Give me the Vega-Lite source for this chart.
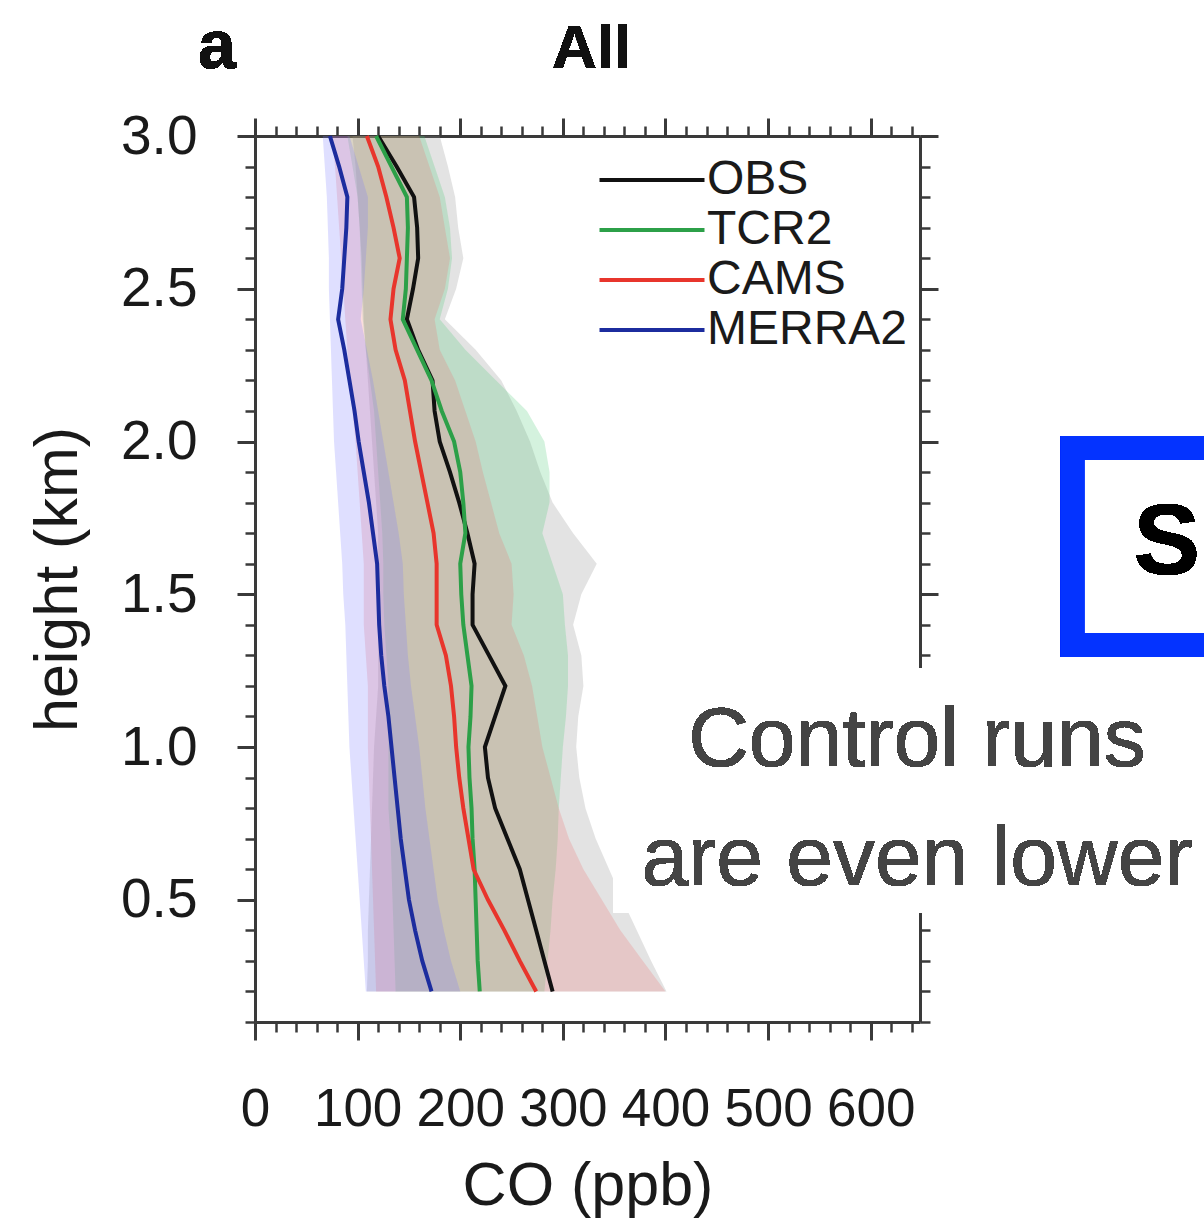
{
  "$schema": "https://vega.github.io/schema/vega-lite/v6.json",
  "width": 665,
  "height": 886,
  "autosize": {"type": "none"},
  "padding": {"left": 255, "top": 136, "right": 284, "bottom": 202},
  "background": "white",
  "config": {"view": {"stroke": null}, "font": "Liberation Sans", "text": {"font": "Liberation Sans"}},
  "data": {"values": [
    {"series": "OBS", "height": 3.0, "co": 120, "lo": 95, "hi": 180},
    {"series": "OBS", "height": 2.9, "co": 138, "lo": 98, "hi": 188},
    {"series": "OBS", "height": 2.8, "co": 155, "lo": 100, "hi": 195},
    {"series": "OBS", "height": 2.7, "co": 158, "lo": 102, "hi": 198},
    {"series": "OBS", "height": 2.6, "co": 159, "lo": 104, "hi": 203},
    {"series": "OBS", "height": 2.5, "co": 154, "lo": 105, "hi": 196},
    {"series": "OBS", "height": 2.4, "co": 148, "lo": 106, "hi": 185},
    {"series": "OBS", "height": 2.3, "co": 159, "lo": 108, "hi": 215},
    {"series": "OBS", "height": 2.2, "co": 173, "lo": 110, "hi": 240},
    {"series": "OBS", "height": 2.1, "co": 175, "lo": 112, "hi": 255},
    {"series": "OBS", "height": 2.0, "co": 180, "lo": 114, "hi": 268},
    {"series": "OBS", "height": 1.9, "co": 190, "lo": 116, "hi": 278},
    {"series": "OBS", "height": 1.8, "co": 199, "lo": 118, "hi": 290},
    {"series": "OBS", "height": 1.7, "co": 207, "lo": 120, "hi": 310},
    {"series": "OBS", "height": 1.6, "co": 214, "lo": 120, "hi": 333},
    {"series": "OBS", "height": 1.5, "co": 212, "lo": 120, "hi": 318},
    {"series": "OBS", "height": 1.4, "co": 212, "lo": 120, "hi": 310},
    {"series": "OBS", "height": 1.3, "co": 228, "lo": 120, "hi": 318},
    {"series": "OBS", "height": 1.2, "co": 244, "lo": 120, "hi": 320},
    {"series": "OBS", "height": 1.1, "co": 234, "lo": 118, "hi": 315},
    {"series": "OBS", "height": 1.0, "co": 224, "lo": 116, "hi": 313},
    {"series": "OBS", "height": 0.9, "co": 227, "lo": 115, "hi": 316},
    {"series": "OBS", "height": 0.8, "co": 234, "lo": 114, "hi": 322},
    {"series": "OBS", "height": 0.7, "co": 246, "lo": 113, "hi": 332},
    {"series": "OBS", "height": 0.6, "co": 258, "lo": 112, "hi": 345},
    {"series": "OBS", "height": 0.5, "co": 266, "lo": 111, "hi": 358},
    {"series": "OBS", "height": 0.4, "co": 274, "lo": 110, "hi": 372},
    {"series": "OBS", "height": 0.3, "co": 282, "lo": 110, "hi": 386},
    {"series": "OBS", "height": 0.2, "co": 290, "lo": 109, "hi": 401},
    {"series": "TCR2", "height": 3.0, "co": 118, "lo": 90, "hi": 165},
    {"series": "TCR2", "height": 2.9, "co": 133, "lo": 95, "hi": 175},
    {"series": "TCR2", "height": 2.8, "co": 148, "lo": 100, "hi": 185},
    {"series": "TCR2", "height": 2.7, "co": 149, "lo": 102, "hi": 190},
    {"series": "TCR2", "height": 2.6, "co": 148, "lo": 103, "hi": 192},
    {"series": "TCR2", "height": 2.5, "co": 147, "lo": 104, "hi": 188},
    {"series": "TCR2", "height": 2.4, "co": 144, "lo": 105, "hi": 180},
    {"series": "TCR2", "height": 2.3, "co": 158, "lo": 108, "hi": 205},
    {"series": "TCR2", "height": 2.2, "co": 172, "lo": 112, "hi": 235},
    {"series": "TCR2", "height": 2.1, "co": 182, "lo": 116, "hi": 265},
    {"series": "TCR2", "height": 2.0, "co": 194, "lo": 118, "hi": 282},
    {"series": "TCR2", "height": 1.9, "co": 200, "lo": 120, "hi": 287},
    {"series": "TCR2", "height": 1.8, "co": 203, "lo": 122, "hi": 287},
    {"series": "TCR2", "height": 1.7, "co": 205, "lo": 124, "hi": 280},
    {"series": "TCR2", "height": 1.6, "co": 200, "lo": 125, "hi": 290},
    {"series": "TCR2", "height": 1.5, "co": 201, "lo": 125, "hi": 300},
    {"series": "TCR2", "height": 1.4, "co": 203, "lo": 126, "hi": 302},
    {"series": "TCR2", "height": 1.3, "co": 207, "lo": 128, "hi": 305},
    {"series": "TCR2", "height": 1.2, "co": 211, "lo": 130, "hi": 305},
    {"series": "TCR2", "height": 1.1, "co": 210, "lo": 130, "hi": 303},
    {"series": "TCR2", "height": 1.0, "co": 208, "lo": 130, "hi": 300},
    {"series": "TCR2", "height": 0.9, "co": 209, "lo": 130, "hi": 298},
    {"series": "TCR2", "height": 0.8, "co": 211, "lo": 130, "hi": 296},
    {"series": "TCR2", "height": 0.7, "co": 212, "lo": 132, "hi": 295},
    {"series": "TCR2", "height": 0.6, "co": 214, "lo": 133, "hi": 293},
    {"series": "TCR2", "height": 0.5, "co": 215, "lo": 134, "hi": 290},
    {"series": "TCR2", "height": 0.4, "co": 216, "lo": 135, "hi": 288},
    {"series": "TCR2", "height": 0.3, "co": 217, "lo": 136, "hi": 285},
    {"series": "TCR2", "height": 0.2, "co": 219, "lo": 137, "hi": 282},
    {"series": "CAMS", "height": 3.0, "co": 109, "lo": 75, "hi": 160},
    {"series": "CAMS", "height": 2.9, "co": 120, "lo": 78, "hi": 170},
    {"series": "CAMS", "height": 2.8, "co": 128, "lo": 80, "hi": 180},
    {"series": "CAMS", "height": 2.7, "co": 135, "lo": 82, "hi": 185},
    {"series": "CAMS", "height": 2.6, "co": 141, "lo": 84, "hi": 190},
    {"series": "CAMS", "height": 2.5, "co": 135, "lo": 86, "hi": 185},
    {"series": "CAMS", "height": 2.4, "co": 132, "lo": 88, "hi": 175},
    {"series": "CAMS", "height": 2.3, "co": 137, "lo": 90, "hi": 180},
    {"series": "CAMS", "height": 2.2, "co": 146, "lo": 92, "hi": 195},
    {"series": "CAMS", "height": 2.1, "co": 151, "lo": 95, "hi": 205},
    {"series": "CAMS", "height": 2.0, "co": 156, "lo": 98, "hi": 215},
    {"series": "CAMS", "height": 1.9, "co": 162, "lo": 100, "hi": 222},
    {"series": "CAMS", "height": 1.8, "co": 168, "lo": 102, "hi": 230},
    {"series": "CAMS", "height": 1.7, "co": 174, "lo": 104, "hi": 238},
    {"series": "CAMS", "height": 1.6, "co": 177, "lo": 106, "hi": 250},
    {"series": "CAMS", "height": 1.5, "co": 177, "lo": 106, "hi": 252},
    {"series": "CAMS", "height": 1.4, "co": 177, "lo": 106, "hi": 250},
    {"series": "CAMS", "height": 1.3, "co": 186, "lo": 108, "hi": 262},
    {"series": "CAMS", "height": 1.2, "co": 191, "lo": 110, "hi": 270},
    {"series": "CAMS", "height": 1.1, "co": 194, "lo": 110, "hi": 275},
    {"series": "CAMS", "height": 1.0, "co": 196, "lo": 110, "hi": 280},
    {"series": "CAMS", "height": 0.9, "co": 199, "lo": 111, "hi": 288},
    {"series": "CAMS", "height": 0.8, "co": 203, "lo": 112, "hi": 296},
    {"series": "CAMS", "height": 0.7, "co": 208, "lo": 113, "hi": 306},
    {"series": "CAMS", "height": 0.6, "co": 213, "lo": 114, "hi": 320},
    {"series": "CAMS", "height": 0.5, "co": 227, "lo": 115, "hi": 338},
    {"series": "CAMS", "height": 0.4, "co": 243, "lo": 116, "hi": 356},
    {"series": "CAMS", "height": 0.3, "co": 258, "lo": 117, "hi": 378},
    {"series": "CAMS", "height": 0.2, "co": 274, "lo": 118, "hi": 400},
    {"series": "MERRA2", "height": 3.0, "co": 73, "lo": 66, "hi": 92},
    {"series": "MERRA2", "height": 2.9, "co": 82, "lo": 68, "hi": 101},
    {"series": "MERRA2", "height": 2.8, "co": 90, "lo": 70, "hi": 110},
    {"series": "MERRA2", "height": 2.7, "co": 89, "lo": 71, "hi": 110},
    {"series": "MERRA2", "height": 2.6, "co": 87, "lo": 72, "hi": 108},
    {"series": "MERRA2", "height": 2.5, "co": 85, "lo": 72, "hi": 106},
    {"series": "MERRA2", "height": 2.4, "co": 81, "lo": 73, "hi": 103},
    {"series": "MERRA2", "height": 2.3, "co": 87, "lo": 74, "hi": 109},
    {"series": "MERRA2", "height": 2.2, "co": 92, "lo": 75, "hi": 115},
    {"series": "MERRA2", "height": 2.1, "co": 97, "lo": 76, "hi": 120},
    {"series": "MERRA2", "height": 2.0, "co": 101, "lo": 77, "hi": 125},
    {"series": "MERRA2", "height": 1.9, "co": 106, "lo": 79, "hi": 130},
    {"series": "MERRA2", "height": 1.8, "co": 111, "lo": 81, "hi": 135},
    {"series": "MERRA2", "height": 1.7, "co": 115, "lo": 83, "hi": 140},
    {"series": "MERRA2", "height": 1.6, "co": 119, "lo": 85, "hi": 144},
    {"series": "MERRA2", "height": 1.5, "co": 120, "lo": 86, "hi": 145},
    {"series": "MERRA2", "height": 1.4, "co": 121, "lo": 88, "hi": 147},
    {"series": "MERRA2", "height": 1.3, "co": 123, "lo": 89, "hi": 149},
    {"series": "MERRA2", "height": 1.2, "co": 126, "lo": 90, "hi": 152},
    {"series": "MERRA2", "height": 1.1, "co": 130, "lo": 91, "hi": 156},
    {"series": "MERRA2", "height": 1.0, "co": 133, "lo": 92, "hi": 160},
    {"series": "MERRA2", "height": 0.9, "co": 136, "lo": 94, "hi": 163},
    {"series": "MERRA2", "height": 0.8, "co": 139, "lo": 96, "hi": 166},
    {"series": "MERRA2", "height": 0.7, "co": 142, "lo": 98, "hi": 170},
    {"series": "MERRA2", "height": 0.6, "co": 146, "lo": 100, "hi": 174},
    {"series": "MERRA2", "height": 0.5, "co": 150, "lo": 102, "hi": 178},
    {"series": "MERRA2", "height": 0.4, "co": 156, "lo": 104, "hi": 184},
    {"series": "MERRA2", "height": 0.3, "co": 163, "lo": 106, "hi": 191},
    {"series": "MERRA2", "height": 0.2, "co": 172, "lo": 108, "hi": 200}
  ]},
  "layer": [
    {
      "mark": {"type": "area", "orient": "horizontal", "opacity": 0.24},
      "encoding": {
        "y": {"field": "height", "type": "quantitative",
          "scale": {"domain": [0.1, 3.0], "nice": false, "zero": false},
          "axis": {"orient": "left", "values": [0.5, 1, 1.5, 2, 2.5, 3], "format": ".1f", "title": "height (km)", "grid": false,
            "tickSize": 18, "tickWidth": 3, "tickColor": "#3a3a3a", "domainColor": "#3a3a3a", "domainWidth": 3,
            "labelFontSize": 55, "labelColor": "#1a1a1a", "labelPadding": 40,
            "titleFontSize": 61, "titleFontWeight": "normal", "titleColor": "#1a1a1a", "titlePadding": 31}},
        "x": {"field": "lo", "type": "quantitative",
          "scale": {"domain": [0, 648], "nice": false, "zero": false},
          "axis": {"orient": "bottom", "values": [0, 100, 200, 300, 400, 500, 600], "title": "CO (ppb)", "grid": false,
            "tickSize": 18, "tickWidth": 3, "tickColor": "#3a3a3a", "domainColor": "#3a3a3a", "domainWidth": 3,
            "labelFontSize": 53, "labelColor": "#1a1a1a", "labelPadding": 43, "labelFlush": false, "labelOverlap": false,
            "titleFontSize": 61, "titleFontWeight": "normal", "titleColor": "#1a1a1a", "titlePadding": 20}},
        "x2": {"field": "hi"},
        "fill": {"field": "series", "type": "nominal",
          "scale": {"domain": ["MERRA2", "CAMS", "TCR2", "OBS"], "range": ["#7a7aff", "#f07272", "#4cc874", "#8a8a8a"]},
          "legend": null}
      }
    },
    {
      "mark": {"type": "point", "opacity": 0},
      "encoding": {
        "y": {"field": "height", "type": "quantitative",
          "scale": {"domain": [0.1, 3.0], "nice": false, "zero": false},
          "axis": {"orient": "right", "values": [0.5, 1, 1.5, 2, 2.5, 3], "labels": false, "title": null, "grid": false,
            "tickSize": 18, "tickWidth": 3, "tickColor": "#3a3a3a", "domainColor": "#3a3a3a", "domainWidth": 3}},
        "x": {"field": "co", "type": "quantitative",
          "scale": {"domain": [0, 648], "nice": false, "zero": false},
          "axis": {"orient": "top", "values": [0, 100, 200, 300, 400, 500, 600], "labels": false, "title": null, "grid": false,
            "tickSize": 18, "tickWidth": 3, "tickColor": "#3a3a3a", "domainColor": "#3a3a3a", "domainWidth": 3}}
      }
    },
    {
      "mark": {"type": "point", "opacity": 0},
      "encoding": {
        "y": {"field": "height", "type": "quantitative",
          "scale": {"domain": [0.1, 3.0], "nice": false, "zero": false},
          "axis": {"orient": "right", "values": [0.1, 0.2, 0.3, 0.4, 0.5, 0.6, 0.7, 0.8, 0.9, 1.0, 1.1, 1.2, 1.3, 1.4, 1.5, 1.6, 1.7, 1.8, 1.9, 2.0, 2.1, 2.2, 2.3, 2.4, 2.5, 2.6, 2.7, 2.8, 2.9, 3.0],
            "labels": false, "domain": false, "title": null, "grid": false, "tickSize": 10, "tickWidth": 2.5, "tickColor": "#3a3a3a"}},
        "x": {"field": "co", "type": "quantitative",
          "scale": {"domain": [0, 648], "nice": false, "zero": false},
          "axis": {"orient": "top", "values": [0, 20, 40, 60, 80, 100, 120, 140, 160, 180, 200, 220, 240, 260, 280, 300, 320, 340, 360, 380, 400, 420, 440, 460, 480, 500, 520, 540, 560, 580, 600, 620, 640],
            "labels": false, "domain": false, "title": null, "grid": false, "tickSize": 10, "tickWidth": 2.5, "tickColor": "#3a3a3a"}}
      }
    },
    {
      "mark": {"type": "line", "strokeWidth": 4},
      "encoding": {
        "y": {"field": "height", "type": "quantitative",
          "scale": {"domain": [0.1, 3.0], "nice": false, "zero": false},
          "axis": {"orient": "left", "values": [0.1, 0.2, 0.3, 0.4, 0.5, 0.6, 0.7, 0.8, 0.9, 1.0, 1.1, 1.2, 1.3, 1.4, 1.5, 1.6, 1.7, 1.8, 1.9, 2.0, 2.1, 2.2, 2.3, 2.4, 2.5, 2.6, 2.7, 2.8, 2.9, 3.0],
            "labels": false, "domain": false, "title": null, "grid": false, "tickSize": 10, "tickWidth": 2.5, "tickColor": "#3a3a3a"}},
        "x": {"field": "co", "type": "quantitative",
          "scale": {"domain": [0, 648], "nice": false, "zero": false},
          "axis": {"orient": "bottom", "values": [0, 20, 40, 60, 80, 100, 120, 140, 160, 180, 200, 220, 240, 260, 280, 300, 320, 340, 360, 380, 400, 420, 440, 460, 480, 500, 520, 540, 560, 580, 600, 620, 640],
            "labels": false, "domain": false, "title": null, "grid": false, "tickSize": 10, "tickWidth": 2.5, "tickColor": "#3a3a3a"}},
        "stroke": {"field": "series", "type": "nominal",
          "scale": {"domain": ["OBS", "TCR2", "CAMS", "MERRA2"], "range": ["#111111", "#2ca048", "#e8352c", "#1c2c9e"]},
          "legend": {"title": null, "orient": "none", "legendX": 373, "legendY": 20,
            "symbolType": "M-4,0H4", "symbolSize": 689, "symbolStrokeWidth": 4, "rowPadding": 2,
            "labelFontSize": 48, "labelFont": "Liberation Sans", "labelColor": "#1a1a1a", "labelOffset": 31, "labelLimit": 400}},
        "order": {"field": "height", "type": "quantitative"}
      }
    },
    {
      "mark": {"type": "text", "text": "a", "font": "Liberation Sans", "fontSize": 68, "fontWeight": "bold", "color": "#111111", "align": "center", "baseline": "alphabetic"},
      "encoding": {
        "x": {"datum": -37, "type": "quantitative", "scale": {"domain": [0, 648], "nice": false, "zero": false}, "axis": null},
        "y": {"datum": 3.2225, "type": "quantitative", "scale": {"domain": [0.1, 3.0], "nice": false, "zero": false}, "axis": null}
      }
    },
    {
      "mark": {"type": "text", "text": "All", "font": "Liberation Sans", "fontSize": 62, "fontWeight": "bold", "color": "#111111", "align": "center", "baseline": "alphabetic"},
      "encoding": {
        "x": {"datum": 328, "type": "quantitative", "scale": {"domain": [0, 648], "nice": false, "zero": false}, "axis": null},
        "y": {"datum": 3.2225, "type": "quantitative", "scale": {"domain": [0.1, 3.0], "nice": false, "zero": false}, "axis": null}
      }
    },
    {
      "mark": {"type": "rect", "fill": "white"},
      "encoding": {
        "x": {"datum": 349, "type": "quantitative", "scale": {"domain": [0, 648], "nice": false, "zero": false}, "axis": null},
        "x2": {"datum": 1000},
        "y": {"datum": 1.259, "type": "quantitative", "scale": {"domain": [0.1, 3.0], "nice": false, "zero": false}, "axis": null},
        "y2": {"datum": 0.458}
      }
    },
    {
      "mark": {"type": "text", "font": "Liberation Sans", "fontSize": 84, "color": "#444444", "align": "center", "baseline": "alphabetic", "lineHeight": 119, "text": ["Control runs", "are even lower"]},
      "encoding": {
        "x": {"datum": 645, "type": "quantitative", "scale": {"domain": [0, 648], "nice": false, "zero": false}, "axis": null},
        "y": {"datum": 0.9385, "type": "quantitative", "scale": {"domain": [0.1, 3.0], "nice": false, "zero": false}, "axis": null}
      }
    },
    {
      "mark": {"type": "rect", "fill": "white", "stroke": "#0433ff", "strokeWidth": 24},
      "encoding": {
        "x": {"datum": 797, "type": "quantitative", "scale": {"domain": [0, 648], "nice": false, "zero": false}, "axis": null},
        "x2": {"datum": 1050},
        "y": {"datum": 1.979, "type": "quantitative", "scale": {"domain": [0.1, 3.0], "nice": false, "zero": false}, "axis": null},
        "y2": {"datum": 1.334}
      }
    },
    {
      "mark": {"type": "text", "text": "S", "font": "Liberation Sans", "fontSize": 100, "fontWeight": "bold", "color": "#000000", "align": "left", "baseline": "alphabetic"},
      "encoding": {
        "x": {"datum": 856, "type": "quantitative", "scale": {"domain": [0, 648], "nice": false, "zero": false}, "axis": null},
        "y": {"datum": 1.567, "type": "quantitative", "scale": {"domain": [0.1, 3.0], "nice": false, "zero": false}, "axis": null}
      }
    }
  ],
  "resolve": {"axis": {"x": "independent", "y": "independent"}}
}
